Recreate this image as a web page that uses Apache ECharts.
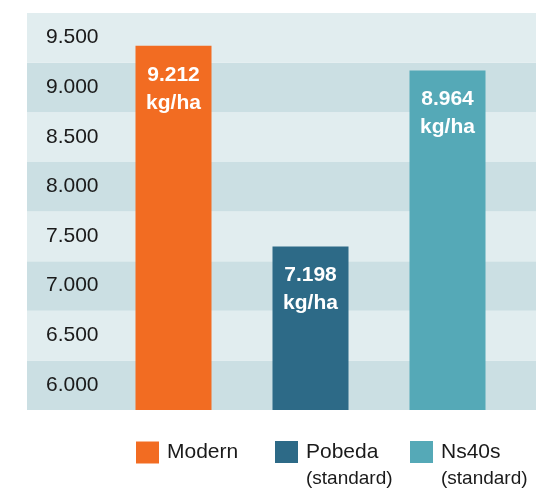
<!DOCTYPE html>
<html>
<head>
<meta charset="utf-8">
<script src="https://cdn.jsdelivr.net/npm/echarts@6/dist/echarts.min.js"></script>
<style>
html,body{margin:0;padding:0;background:#ffffff;}
#chart{width:538px;height:490px;}
</style>
</head>
<body>
<div id="chart"></div>
<script>
// Data
const categories = ['Modern', 'Pobeda', 'Ns40s'];
const subtitles = ['', '(standard)', '(standard)'];
const values = [9212, 7198, 8964];
const unit = 'kg/ha';
const tickMin = 5500;
const tickMax = 9500;
const tickStep = 500;
const colors = ['#f26c22', '#2d6a87', '#55a9b7'];

const FONT = '"Liberation Sans", Arial, Helvetica, sans-serif';
const fmt = v => (v / 1000).toFixed(3);

const series = categories.map((name, i) => ({
  name: name,
  type: 'bar',
  xAxisIndex: 1,
  yAxisIndex: 1,
  barWidth: 76,
  barGap: '-100%',
  itemStyle: { color: colors[i] },
  data: categories.map((c, j) => (j === i ? values[i] : '-')),
  label: {
    show: true,
    position: 'insideTop',
    distance: 15,
    color: '#ffffff',
    fontFamily: FONT,
    fontWeight: 'bold',
    fontSize: 21,
    lineHeight: 28,
    formatter: p => fmt(p.value) + '\n' + unit
  },
  emphasis: { disabled: true }
}));

const legendLefts = [136, 275, 410];
const legends = categories.map((name, i) => ({
  data: [name],
  left: legendLefts[i],
  top: subtitles[i] ? 414.5 : 441.5,
  padding: 0,
  orient: 'horizontal',
  icon: 'rect',
  itemWidth: 23,
  itemHeight: 22,
  selectedMode: false,
  formatter: n => subtitles[i]
    ? '{a| }\n{a|' + n + '}\n{b|' + subtitles[i] + '}'
    : '{a|' + n + '}',
  textStyle: {
    fontFamily: FONT,
    color: '#1a1a1a',
    rich: {
      a: { fontFamily: FONT, fontSize: 21, lineHeight: 27, color: '#1a1a1a', padding: [0, 0, 0, 3] },
      b: { fontFamily: FONT, fontSize: 19, lineHeight: 27, color: '#1a1a1a', padding: [0, 0, 0, 3] }
    }
  }
}));

const option = {
  animation: false,
  backgroundColor: '#ffffff',
  grid: [
    { left: 27, right: 2, top: 13, bottom: 80 },
    { left: 105, width: 411, top: 13, bottom: 80 }
  ],
  xAxis: [
    { gridIndex: 0, type: 'value', show: false },
    { gridIndex: 1, type: 'category', data: categories, show: false }
  ],
  yAxis: [
    {
      gridIndex: 0,
      type: 'value',
      min: tickMin,
      max: tickMax,
      interval: tickStep,
      axisLine: { show: false },
      axisTick: { show: false },
      splitLine: { show: false },
      splitArea: { show: true, areaStyle: { color: ['#cbdfe3', '#e1edef'] } },
      axisLabel: {
        inside: true,
        margin: 19,
        showMinLabel: false,
        showMaxLabel: true,
        hideOverlap: false,
        fontFamily: FONT,
        fontSize: 21,
        color: '#1a1a1a',
        verticalAlign: 'top',
        lineHeight: 49,
        formatter: v => fmt(v)
      },
      z: 0
    },
    {
      gridIndex: 1,
      type: 'value',
      min: 5560,
      max: 9540,
      show: false,
      splitLine: { show: false }
    }
  ],
  legend: legends,
  series: series
};

const chart = echarts.init(document.getElementById('chart'), null, { renderer: 'canvas' });
chart.setOption(option);
</script>
</body>
</html>
